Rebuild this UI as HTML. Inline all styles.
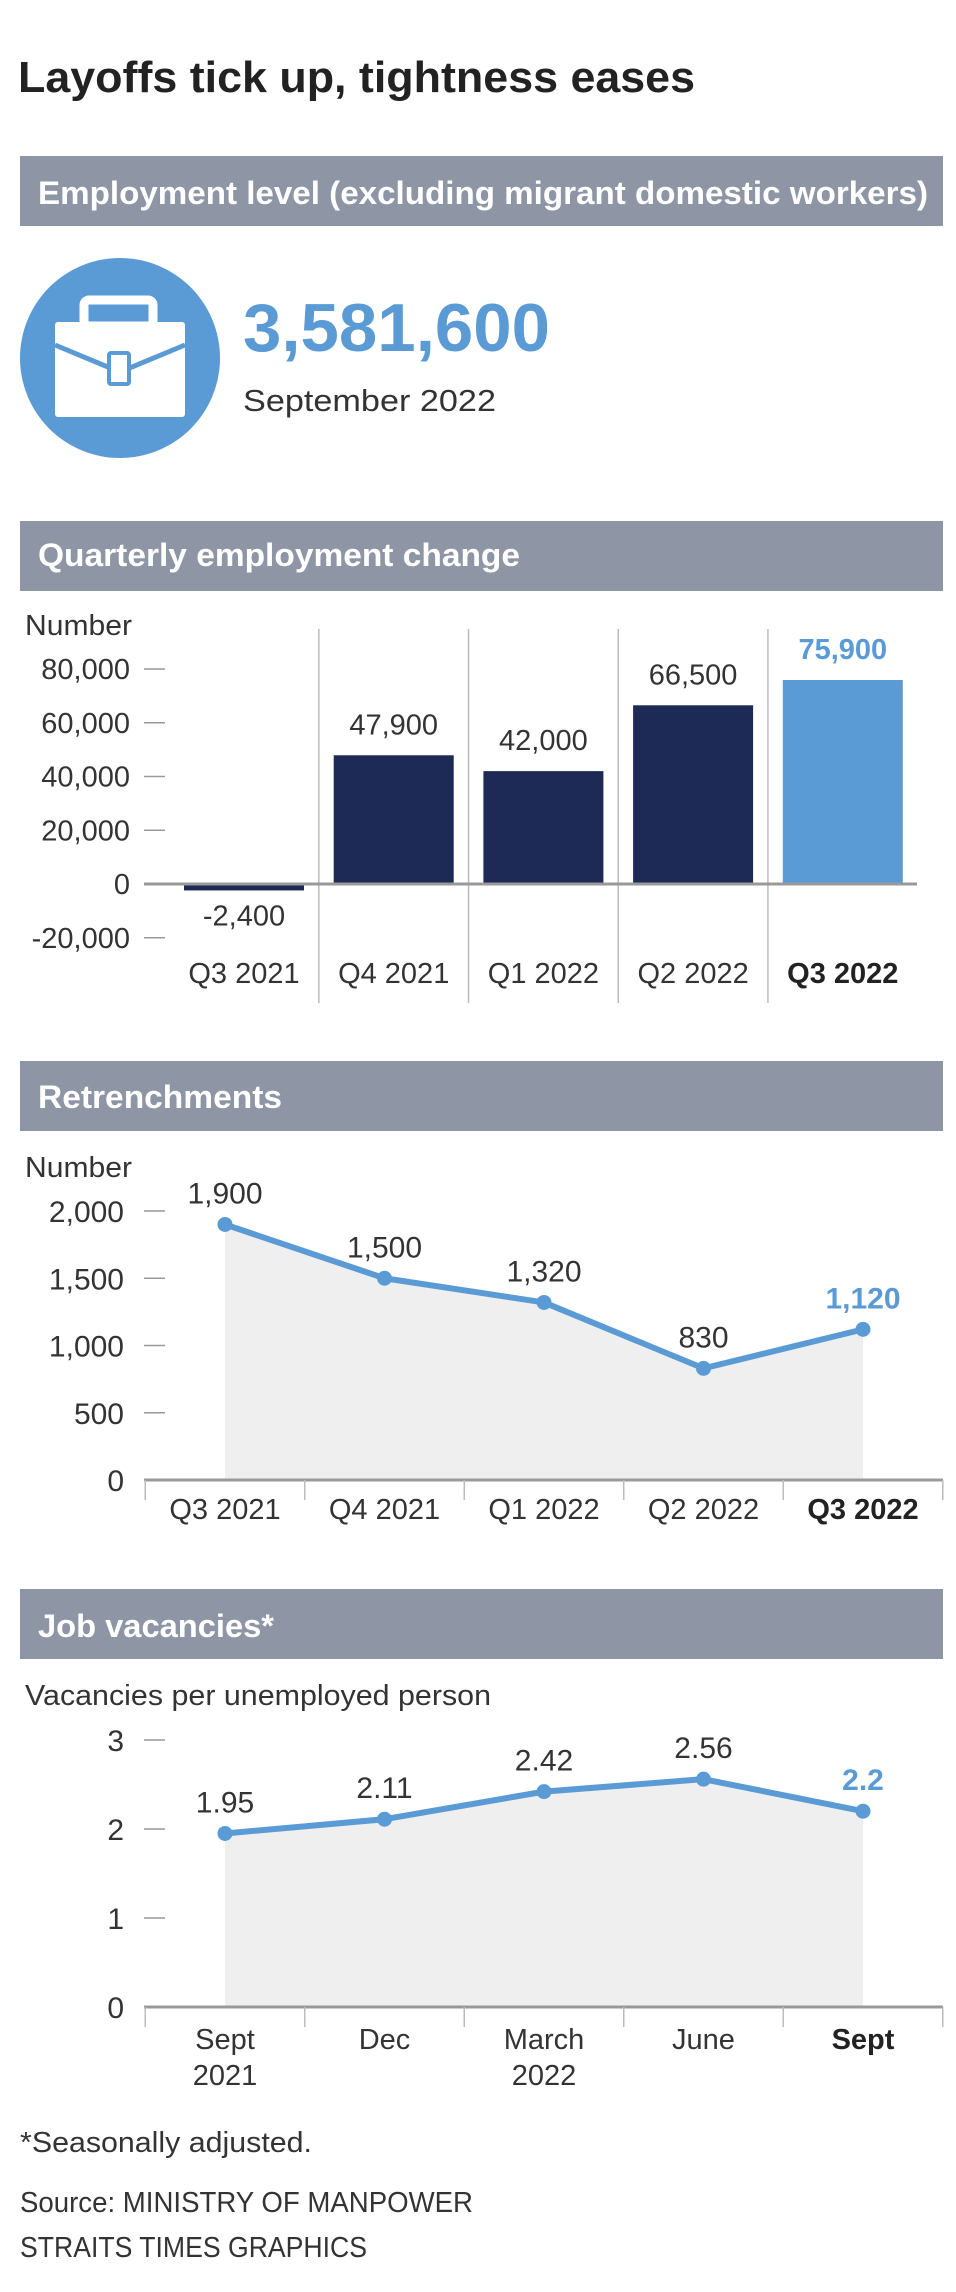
<!DOCTYPE html>
<html><head><meta charset="utf-8"><style>
html,body{margin:0;padding:0;background:#fff;}
svg{display:block;font-family:"Liberation Sans",sans-serif;}
</style></head><body>
<svg id="root" width="956" height="2292" viewBox="0 0 956 2292" xmlns="http://www.w3.org/2000/svg">
<text x="18" y="92" font-size="44" font-weight="bold" fill="#222" textLength="677" lengthAdjust="spacingAndGlyphs">Layoffs tick up, tightness eases</text>

<rect x="20" y="156" width="923" height="70" fill="#8e95a5"/>
<text x="38" y="204" font-size="32" font-weight="bold" fill="#fff" textLength="890" lengthAdjust="spacingAndGlyphs">Employment level (excluding migrant domestic workers)</text>

<g>
<circle cx="120" cy="358" r="100" fill="#5b9bd5"/>
<rect x="84" y="300" width="69" height="26" rx="5" fill="none" stroke="#fff" stroke-width="9"/>
<rect x="55" y="322" width="130" height="95" rx="3" fill="#fff"/>
<polyline points="55,345 120,372 185,345" fill="none" stroke="#5b9bd5" stroke-width="5"/>
<rect x="109" y="353" width="20" height="31" rx="2" fill="#fff" stroke="#5b9bd5" stroke-width="4"/>
</g>
<text x="243" y="351" font-size="68" font-weight="bold" fill="#5b9bd5" textLength="307" lengthAdjust="spacingAndGlyphs">3,581,600</text>
<text x="243" y="411" font-size="31" fill="#333" textLength="253" lengthAdjust="spacingAndGlyphs">September 2022</text>

<rect x="20" y="521" width="923" height="70" fill="#8e95a5"/>
<text x="38" y="566" font-size="32" font-weight="bold" fill="#fff" textLength="482" lengthAdjust="spacingAndGlyphs">Quarterly employment change</text>
<text x="25" y="635" font-size="29" fill="#333" textLength="107" lengthAdjust="spacingAndGlyphs">Number</text>
<g id="bars"></g>

<rect x="20" y="1061" width="923" height="70" fill="#8e95a5"/>
<text x="38" y="1108" font-size="32" font-weight="bold" fill="#fff" textLength="244" lengthAdjust="spacingAndGlyphs">Retrenchments</text>
<text x="25" y="1177" font-size="29" fill="#333" textLength="107" lengthAdjust="spacingAndGlyphs">Number</text>
<g id="retrench"></g>

<rect x="20" y="1589" width="923" height="70" fill="#8e95a5"/>
<text x="38" y="1637" font-size="32" font-weight="bold" fill="#fff" textLength="236" lengthAdjust="spacingAndGlyphs">Job vacancies*</text>
<text x="25" y="1705" font-size="29" fill="#333" textLength="466" lengthAdjust="spacingAndGlyphs">Vacancies per unemployed person</text>
<g id="vac"></g>

<text x="20" y="2152" font-size="29" fill="#333" textLength="292" lengthAdjust="spacingAndGlyphs">*Seasonally adjusted.</text>
<text x="20" y="2212" font-size="29" fill="#333" textLength="453" lengthAdjust="spacingAndGlyphs">Source: MINISTRY OF MANPOWER</text>
<text x="20" y="2257" font-size="29" fill="#333" textLength="347" lengthAdjust="spacingAndGlyphs">STRAITS TIMES GRAPHICS</text>
</svg>
<script>
var barCategories = ["Q3 2021","Q4 2021","Q1 2022","Q2 2022","Q3 2022"];
var barValues = [-2400, 47900, 42000, 66500, 75900];
var barValueLabels = ["-2,400","47,900","42,000","66,500","75,900"];
var barTicks = [80000, 60000, 40000, 20000, 0, -20000];
var barTickLabels = ["80,000","60,000","40,000","20,000","0","-20,000"];

var retCategories = ["Q3 2021","Q4 2021","Q1 2022","Q2 2022","Q3 2022"];
var retValues = [1900, 1500, 1320, 830, 1120];
var retValueLabels = ["1,900","1,500","1,320","830","1,120"];
var retTicks = [2000, 1500, 1000, 500, 0];
var retTickLabels = ["2,000","1,500","1,000","500","0"];

var vacCategoriesLine1 = ["Sept","Dec","March","June","Sept"];
var vacCategoriesLine2 = ["2021","","2022","",""];
var vacValues = [1.95, 2.11, 2.42, 2.56, 2.2];
var vacValueLabels = ["1.95","2.11","2.42","2.56","2.2"];
var vacTicks = [3, 2, 1, 0];
var vacTickLabels = ["3","2","1","0"];

var NS = "http://www.w3.org/2000/svg";
var BLUE = "#5b9bd5", NAVY = "#1d2a56", TXT = "#333";
function mk(parent, tag, attrs, text) {
  var e = document.createElementNS(NS, tag);
  for (var k in attrs) e.setAttribute(k, attrs[k]);
  if (text !== undefined) e.textContent = text;
  parent.appendChild(e);
  return e;
}

// Bar chart
(function(){
  var g = document.getElementById("bars");
  function y(v){ return 884 - v * (215/80000); }
  function cx(i){ return 244 + i * 149.7; }
  var bw = 120;
  for (var t = 0; t < barTicks.length; t++) {
    var ty = y(barTicks[t]);
    var lb = mk(g, "text", {x:130, y:ty+10, "font-size":29, fill:TXT, "text-anchor":"end"}, barTickLabels[t]);
    
    
    if (barTicks[t] !== 0) {
      var tk = mk(g, "line", {x1:144, x2:165, y1:ty, y2:ty, stroke:"#999", "stroke-width":1.5});
      
      
    }
  }
  for (var s = 1; s < barCategories.length; s++) {
    var sx = (cx(s-1)+cx(s))/2;
    var sp = mk(g, "line", {x1:sx, x2:sx, y1:629, y2:1003, stroke:"#bbb", "stroke-width":1.5});
    
    
  }
  for (var i = 0; i < barValues.length; i++) {
    var v = barValues[i], last = i === barValues.length-1;
    var top = Math.min(y(v), y(0)), h = Math.abs(y(v)-y(0));
    var r = mk(g, "rect", {x:cx(i)-bw/2, y:top, width:bw, height:h, fill: last ? BLUE : NAVY});
    
    
    var ly = v >= 0 ? y(v) - 21 : y(v) + 35;
    var vl = mk(g, "text", {x:cx(i), y:ly, "font-size":29, fill: last ? BLUE : TXT, "font-weight": last ? "bold" : "normal", "text-anchor":"middle"}, barValueLabels[i]);
    
    
    var cl = mk(g, "text", {x:cx(i), y:983, "font-size":29, fill: last ? "#222" : TXT, "font-weight": last ? "bold" : "normal", "text-anchor":"middle"}, barCategories[i]);
    
    
  }
  var z = mk(g, "line", {x1:144, x2:917, y1:y(0), y2:y(0), stroke:"#999", "stroke-width":3});
  
  
})();

function lineChart(gid, cats1, cats2, vals, vlabels, ticks, tlabels, y0, pxPerUnit, labelY, prefix) {
  var g = document.getElementById(gid);
  function y(v){ return y0 - v * pxPerUnit; }
  function cx(i){ return 225 + i * 159.5; }
  for (var t = 0; t < ticks.length; t++) {
    var ty = y(ticks[t]);
    var lb = mk(g, "text", {x:124, y:ty+11, "font-size":30, fill:TXT, "text-anchor":"end"}, tlabels[t]);
    
    
    if (ticks[t] !== 0) {
      var tk = mk(g, "line", {x1:144, x2:165, y1:ty, y2:ty, stroke:"#999", "stroke-width":1.5});
      
      
    }
  }
  var pts = [];
  for (var i = 0; i < vals.length; i++) pts.push(cx(i) + "," + y(vals[i]));
  var area = mk(g, "polygon", {points: cx(0)+","+y0+" "+pts.join(" ")+" "+cx(vals.length-1)+","+y0, fill:"#efefef"});
  
  
  var ax = mk(g, "line", {x1:144, x2:943, y1:y0, y2:y0, stroke:"#999", "stroke-width":3});
  
  
  for (var k = 0; k <= vals.length; k++) {
    var xx = cx(k) - 79.75;
    var ct = mk(g, "line", {x1:xx, x2:xx, y1:y0, y2:y0+20, stroke:"#bbb", "stroke-width":1.5});
    
    
  }
  var ln = mk(g, "polyline", {points: pts.join(" "), fill:"none", stroke:BLUE, "stroke-width":6, "stroke-linejoin":"round"});
  
  
  for (var j = 0; j < vals.length; j++) {
    var last = j === vals.length - 1;
    var p = mk(g, "circle", {cx:cx(j), cy:y(vals[j]), r:7.5, fill:BLUE});
    
    
    var vl = mk(g, "text", {x:cx(j), y:y(vals[j]) - 21, "font-size":30, fill: last ? BLUE : TXT, "font-weight": last ? "bold" : "normal", "text-anchor":"middle"}, vlabels[j]);
    
    
    var cl = mk(g, "text", {x:cx(j), y:labelY, "font-size":29, fill: last ? "#222" : TXT, "font-weight": last ? "bold" : "normal", "text-anchor":"middle"}, cats1[j]);
    
    
    if (cats2 && cats2[j]) {
      var c2 = mk(g, "text", {x:cx(j), y:labelY+36, "font-size":29, fill:TXT, "text-anchor":"middle"}, cats2[j]);
      
      
    }
  }
}
lineChart("retrench", retCategories, null, retValues, retValueLabels, retTicks, retTickLabels, 1480, 269/2000, 1519, "retrench");
lineChart("vac", vacCategoriesLine1, vacCategoriesLine2, vacValues, vacValueLabels, vacTicks, vacTickLabels, 2007, 89, 2049, "vacancies");
</script>
</body></html>
